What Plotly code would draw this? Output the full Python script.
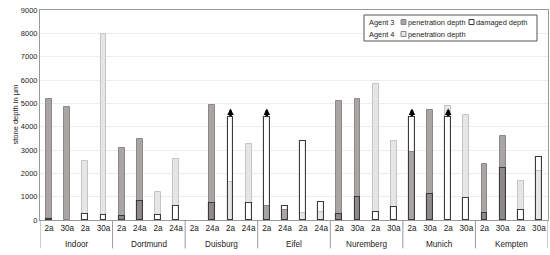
import plotly.graph_objects as go

locations = ["Indoor", "Dortmund", "Duisburg", "Eifel", "Nuremberg", "Munich", "Kempten"]
ages = [["2a", "30a"], ["2a", "24a"], ["2a", "24a"], ["2a", "24a"],
        ["2a", "30a"], ["2a", "30a"], ["2a", "30a"]]

# Agent 3
pen_a3 = [[5200, 4850], [3080, 3470], [0, 4950], [600, 450], [5100, 5170], [2930, 4700], [2400, 3620]]
dmg_a3 = [[50, 0], [170, 800], [0, 750], [4400, 580], [250, 970], [4400, 1120], [280, 2220]]
exc_a3 = [[0, 0], [0, 0], [0, 0], [1, 0], [0, 0], [1, 0], [0, 0]]
# Agent 4
pen_a4 = [[2520, 7980], [1200, 2620], [1620, 3240], [280, 350], [5820, 3380], [4900, 4500], [1690, 2120]]
dmg_a4 = [[250, 200], [230, 600], [4400, 710], [3370, 760], [360, 550], [4400, 940], [430, 2680]]
exc_a4 = [[0, 0], [0, 0], [1, 0], [0, 0], [0, 0], [1, 0], [0, 0]]

C_A3 = "#a9a5a5"
C_A3_LINE = "#8c8888"
C_A3_DMG = "#8e8a8a"
C_A4 = "#e6e6e6"
C_A4_LINE = "#c4c4c4"
DARK = "#3a3a3a"

# build columns
xs, labels, pens, dmgs, agents, excs = [], [], [], [], [], []
i = 0
for g in range(len(locations)):
    for agent, pen, dmg, exc in ((3, pen_a3, dmg_a3, exc_a3), (4, pen_a4, dmg_a4, exc_a4)):
        for k in range(2):
            xs.append(i)
            labels.append(ages[g][k])
            pens.append(pen[g][k])
            dmgs.append(dmg[g][k])
            agents.append(agent)
            excs.append(exc[g][k])
            i += 1

W = 0.32
fig = go.Figure()

# damaged bars exceeding penetration, drawn underneath (white)
under = [d if (d > p and d > 0) else None for d, p in zip(dmgs, pens)]
fig.add_trace(go.Bar(x=xs, y=under, width=W, marker=dict(color="white", line=dict(color=DARK, width=1)),
                     showlegend=False, hoverinfo="skip"))
# penetration bars
fig.add_trace(go.Bar(x=xs, y=[p if p > 0 else None for p in pens], width=W,
                     marker=dict(color=[C_A3 if a == 3 else C_A4 for a in agents],
                                 line=dict(color=[C_A3_LINE if a == 3 else C_A4_LINE for a in agents], width=1)),
                     showlegend=False, hoverinfo="skip"))
# damaged overlay
fills = []
for d, p, a in zip(dmgs, pens, agents):
    if d > p:
        fills.append("rgba(0,0,0,0)")
    elif a == 3:
        fills.append(C_A3_DMG)
    else:
        fills.append("white")
fig.add_trace(go.Bar(x=xs, y=[d if d > 0 else None for d in dmgs], width=W,
                     marker=dict(color=fills, line=dict(color=DARK, width=1.1)),
                     showlegend=False, hoverinfo="skip"))

# arrows for values exceeding the measurement range
for x, d, e in zip(xs, dmgs, excs):
    if e:
        fig.add_annotation(x=x, y=d + 380, ax=x, ay=d - 20, xref="x", yref="y", axref="x", ayref="y",
                           text="", showarrow=True, arrowhead=2, arrowsize=0.5, arrowwidth=2.6, arrowcolor="black")

FONT = "Liberation Sans, Arial, sans-serif"
L, R, T, B = 40, 2, 10, 35
PW, PH = 550 - L - R, 255 - T - B


def px(xp):
    return (xp - L) / PW


def py(yp):
    return (255 - B - yp) / PH


# group labels and dividers
for g, name in enumerate(locations):
    fig.add_annotation(x=4 * g + 1.5, y=-0.117, xref="x", yref="paper", text=name, showarrow=False,
                       font=dict(family=FONT, size=8.2, color="#222"), yanchor="middle")
for g in range(len(locations) + 1):
    fig.add_shape(type="line", x0=4 * g - 0.5, x1=4 * g - 0.5, y0=0, y1=-0.135, xref="x", yref="paper",
                  line=dict(color="#9a9a9a", width=1))

# y-axis title
fig.add_annotation(x=0, y=0.5, xref="paper", yref="paper", xshift=-32, text="stone depth in µm",
                   textangle=-90, showarrow=False, font=dict(family=FONT, size=7.5, color="#222"))

# custom legend
fig.add_shape(type="rect", x0=px(364), x1=px(537), y0=py(15), y1=py(41), xref="paper", yref="paper",
              line=dict(color="#555", width=1), fillcolor="white")
LF = 7.4
legend_rows = [
    (22, "Agent 3", [(C_A3, C_A3_LINE, "penetration depth", 401), ("white", DARK, "damaged depth", 469)]),
    (34, "Agent 4", [(C_A4, "#888", "penetration depth", 401)]),
]
for yrow, agent_name, items in legend_rows:
    fig.add_annotation(x=px(367), y=py(yrow), xref="paper", yref="paper", text=agent_name, showarrow=False,
                       xanchor="left", yanchor="middle", font=dict(family=FONT, size=LF, color="#222"))
    for fill, line, txt, sx in items:
        fig.add_shape(type="rect", x0=px(sx), x1=px(sx + 5), y0=py(yrow + 2.5), y1=py(yrow - 2.5),
                      xref="paper", yref="paper", fillcolor=fill, line=dict(color=line, width=1))
        fig.add_annotation(x=px(sx + 5), y=py(yrow), xref="paper", yref="paper", text=txt, showarrow=False,
                           xanchor="left", yanchor="middle", font=dict(family=FONT, size=LF, color="#222"))

fig.update_layout(
    width=550, height=255,
    margin=dict(l=L, r=R, t=T, b=B),
    paper_bgcolor="white", plot_bgcolor="white",
    barmode="overlay", bargap=0,
    showlegend=False,
    font=dict(family=FONT, size=8, color="#222"),
)
fig.update_xaxes(range=[-0.5, len(xs) - 0.5], tickvals=xs, ticktext=labels, ticks="", showgrid=False,
                 showline=True, linecolor="#9a9a9a", linewidth=1, mirror=True, zeroline=False,
                 tickfont=dict(family=FONT, size=8.2, color="#222"), fixedrange=True)
fig.update_yaxes(range=[0, 9000], tickvals=list(range(0, 9001, 1000)), showgrid=True, gridcolor="#ececec",
                 gridwidth=1, showline=True, linecolor="#9a9a9a", linewidth=1, mirror=True, zeroline=False,
                 ticks="", tickfont=dict(family=FONT, size=7.5, color="#222"), fixedrange=True)

fig.write_html("out.html")
